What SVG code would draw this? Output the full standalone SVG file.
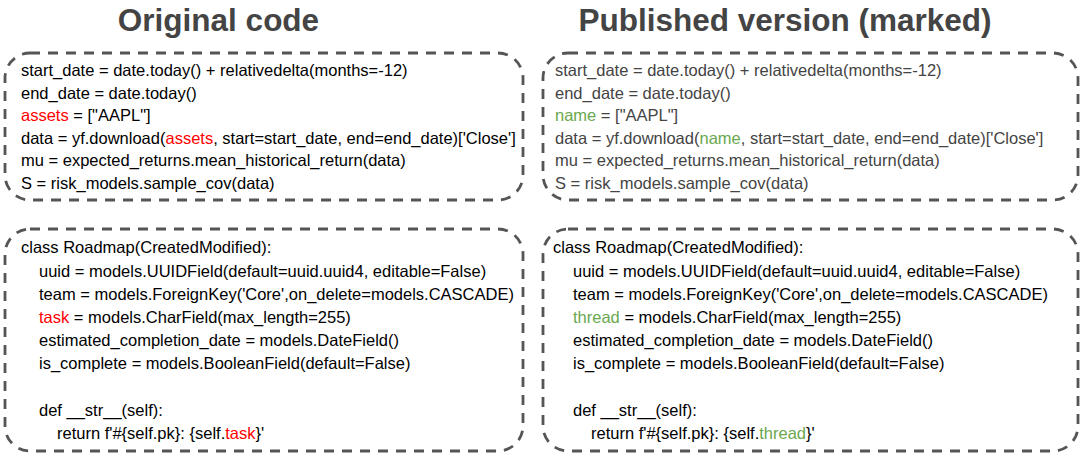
<svg xmlns="http://www.w3.org/2000/svg" width="1080" height="455" viewBox="0 0 1080 455">
<style>
.box{fill:none;stroke:#555;stroke-width:2.8;stroke-dasharray:10 8}
.title{font-family:"Liberation Sans",Arial,sans-serif;font-weight:bold;font-size:31.5px;fill:#444;text-anchor:middle}
.code{font-family:"Liberation Sans",Arial,sans-serif;font-size:16.5px;fill:#000}
.pub{fill:#444}
.red{fill:#ff0000}
.green{fill:#6aa84f}
</style>
<rect width="1080" height="455" fill="#fff"/>
<g id="title-original"><text class="title" x="218.5" y="31">Original code</text></g>
<g id="title-published"><text class="title" x="785" y="31">Published version (marked)</text></g>
<g id="orig-top">
<rect class="box" x="5" y="53" width="518" height="147" rx="25"/>
<text class="code" x="21" y="76">start_date = date.today() + relativedelta(months=-12)</text>
<text class="code" x="21" y="98.5">end_date = date.today()</text>
<text class="code" x="21" y="121"><tspan class="red">assets</tspan> = ["AAPL"]</text>
<text class="code" x="21" y="143.5">data = yf.download(<tspan class="red">assets</tspan>, start=start_date, end=end_date)['Close']</text>
<text class="code" x="21" y="166">mu = expected_returns.mean_historical_return(data)</text>
<text class="code" x="21" y="188.5">S = risk_models.sample_cov(data)</text>
</g>
<g id="pub-top">
<rect class="box" x="543" y="53" width="535" height="147" rx="25"/>
<text class="code pub" x="555" y="76">start_date = date.today() + relativedelta(months=-12)</text>
<text class="code pub" x="555" y="98.5">end_date = date.today()</text>
<text class="code pub" x="555" y="121"><tspan class="green">name</tspan> = ["AAPL"]</text>
<text class="code pub" x="555" y="143.5">data = yf.download(<tspan class="green">name</tspan>, start=start_date, end=end_date)['Close']</text>
<text class="code pub" x="555" y="166">mu = expected_returns.mean_historical_return(data)</text>
<text class="code pub" x="555" y="188.5">S = risk_models.sample_cov(data)</text>
</g>
<g id="orig-bottom">
<rect class="box" x="5" y="229" width="518" height="222" rx="25"/>
<text class="code" x="21" y="253">class Roadmap(CreatedModified):</text>
<text class="code" x="39" y="276.5">uuid = models.UUIDField(default=uuid.uuid4, editable=False)</text>
<text class="code" x="39" y="299.5">team = models.ForeignKey('Core',on_delete=models.CASCADE)</text>
<text class="code" x="39" y="322.5"><tspan class="red">task</tspan> = models.CharField(max_length=255)</text>
<text class="code" x="39" y="345.5">estimated_completion_date = models.DateField()</text>
<text class="code" x="39" y="368.5">is_complete = models.BooleanField(default=False)</text>
<text class="code" x="39" y="415.5">def __str__(self):</text>
<text class="code" x="57" y="438.5">return f'#{self.pk}: {self.<tspan class="red">task</tspan>}'</text>
</g>
<g id="pub-bottom">
<rect class="box" x="543" y="229" width="535" height="222" rx="25"/>
<text class="code" x="553" y="253">class Roadmap(CreatedModified):</text>
<text class="code" x="573" y="276.5">uuid = models.UUIDField(default=uuid.uuid4, editable=False)</text>
<text class="code" x="573" y="299.5">team = models.ForeignKey('Core',on_delete=models.CASCADE)</text>
<text class="code" x="573" y="322.5"><tspan class="green">thread</tspan> = models.CharField(max_length=255)</text>
<text class="code" x="573" y="345.5">estimated_completion_date = models.DateField()</text>
<text class="code" x="573" y="368.5">is_complete = models.BooleanField(default=False)</text>
<text class="code" x="573" y="415.5">def __str__(self):</text>
<text class="code" x="591" y="438.5">return f'#{self.pk}: {self.<tspan class="green">thread</tspan>}'</text>
</g>
<g id="connectors"/>
</svg>
